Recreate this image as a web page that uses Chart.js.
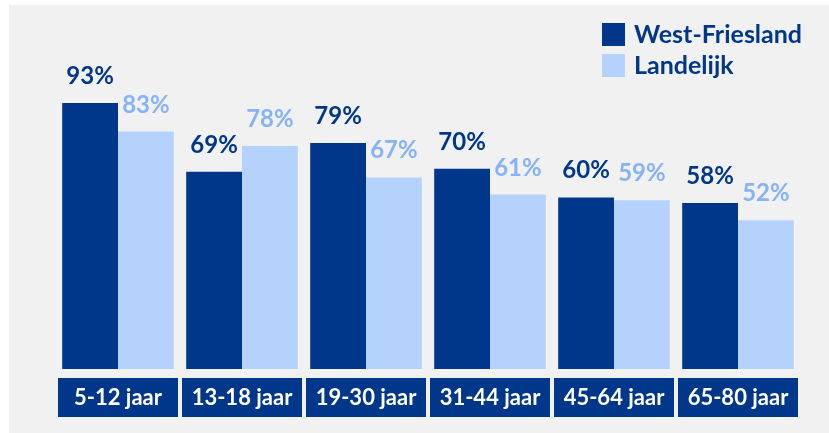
<!DOCTYPE html>
<html>
<head>
<meta charset="utf-8">
<script src="https://cdn.jsdelivr.net/npm/chart.js@4"></script>
<style>
  html, body { margin: 0; padding: 0; background: #ffffff; }
  #wrap { position: absolute; left: 9px; top: 5px; width: 820px; height: 428px; background: #f1f1f1; }
</style>
</head>
<body>
<div id="wrap"><canvas id="ageChart" width="820" height="428"></canvas></div>
<script>
// Age groups and shares per region
const ageGroups = ['5-12 jaar', '13-18 jaar', '19-30 jaar', '31-44 jaar', '45-64 jaar', '65-80 jaar'];
const westFriesland = [93, 69, 79, 70, 60, 58];
const landelijk = [83, 78, 67, 61, 59, 52];

const darkBlue = '#00378a';
const lightBlue = '#b4d2fc';
const lightText = '#86b2f7';
const fontFamily = 'Lato, "Open Sans", sans-serif';

// Value labels above each bar
const valueLabels = {
    id: 'valueLabels',
    afterDatasetsDraw(chart) {
        const ctx = chart.ctx;
        ctx.save();
        ctx.font = 'bold 24px ' + fontFamily;
        ctx.textAlign = 'center';
        ctx.textBaseline = 'alphabetic';
        chart.data.datasets.forEach((ds, di) => {
            const meta = chart.getDatasetMeta(di);
            ctx.fillStyle = di === 0 ? darkBlue : lightText;
            meta.data.forEach((bar, i) => {
                ctx.fillText(ds.data[i] + '%', bar.x, bar.y - 19);
            });
        });
        ctx.restore();
    }
};

// Category labels in dark boxes under the axis
const categoryBoxes = {
    id: 'categoryBoxes',
    afterDraw(chart) {
        const ctx = chart.ctx;
        const x = chart.scales.x;
        const area = chart.chartArea;
        const step = x.width / ageGroups.length;
        ctx.save();
        ctx.font = 'bold 22px ' + fontFamily;
        ctx.textAlign = 'center';
        ctx.textBaseline = 'middle';
        ageGroups.forEach((label, i) => {
            const cx = x.getPixelForValue(i);
            const top = area.bottom + 9;
            ctx.fillStyle = darkBlue;
            ctx.fillRect(cx - step / 2 + 2, top, step - 4, 39);
            ctx.fillStyle = '#ffffff';
            ctx.fillText(label, cx, top + 20);
        });
        ctx.restore();
    }
};

// Legend in the top right corner
const cornerLegend = {
    id: 'cornerLegend',
    afterDraw(chart) {
        const ctx = chart.ctx;
        ctx.save();
        ctx.font = 'bold 25px ' + fontFamily;
        ctx.textAlign = 'left';
        ctx.textBaseline = 'middle';
        chart.data.datasets.forEach((ds, di) => {
            const y = 18 + di * 31;
            ctx.fillStyle = ds.backgroundColor;
            ctx.fillRect(593, y, 23, 23);
            ctx.fillStyle = darkBlue;
            ctx.fillText(ds.label, 625, y + 12);
        });
        ctx.restore();
    }
};

const ctx = document.getElementById('ageChart').getContext('2d');
const ageChart = new Chart(ctx, {
    type: 'bar',
    data: {
        labels: ageGroups,
        datasets: [{
            label: 'West-Friesland',
            data: westFriesland,
            backgroundColor: darkBlue,
            categoryPercentage: 0.9,
            barPercentage: 1.0
        }, {
            label: 'Landelijk',
            data: landelijk,
            backgroundColor: lightBlue,
            categoryPercentage: 0.9,
            barPercentage: 1.0
        }]
    },
    options: {
        responsive: false,
        animation: false,
        layout: {
            padding: { left: 47, right: 29, top: 78, bottom: 64 }
        },
        plugins: {
            legend: { display: false },
            tooltip: { enabled: false }
        },
        scales: {
            x: { display: false },
            y: { display: false, min: 0, max: 100 }
        }
    },
    plugins: [valueLabels, categoryBoxes, cornerLegend]
});
</script>
</body>
</html>
